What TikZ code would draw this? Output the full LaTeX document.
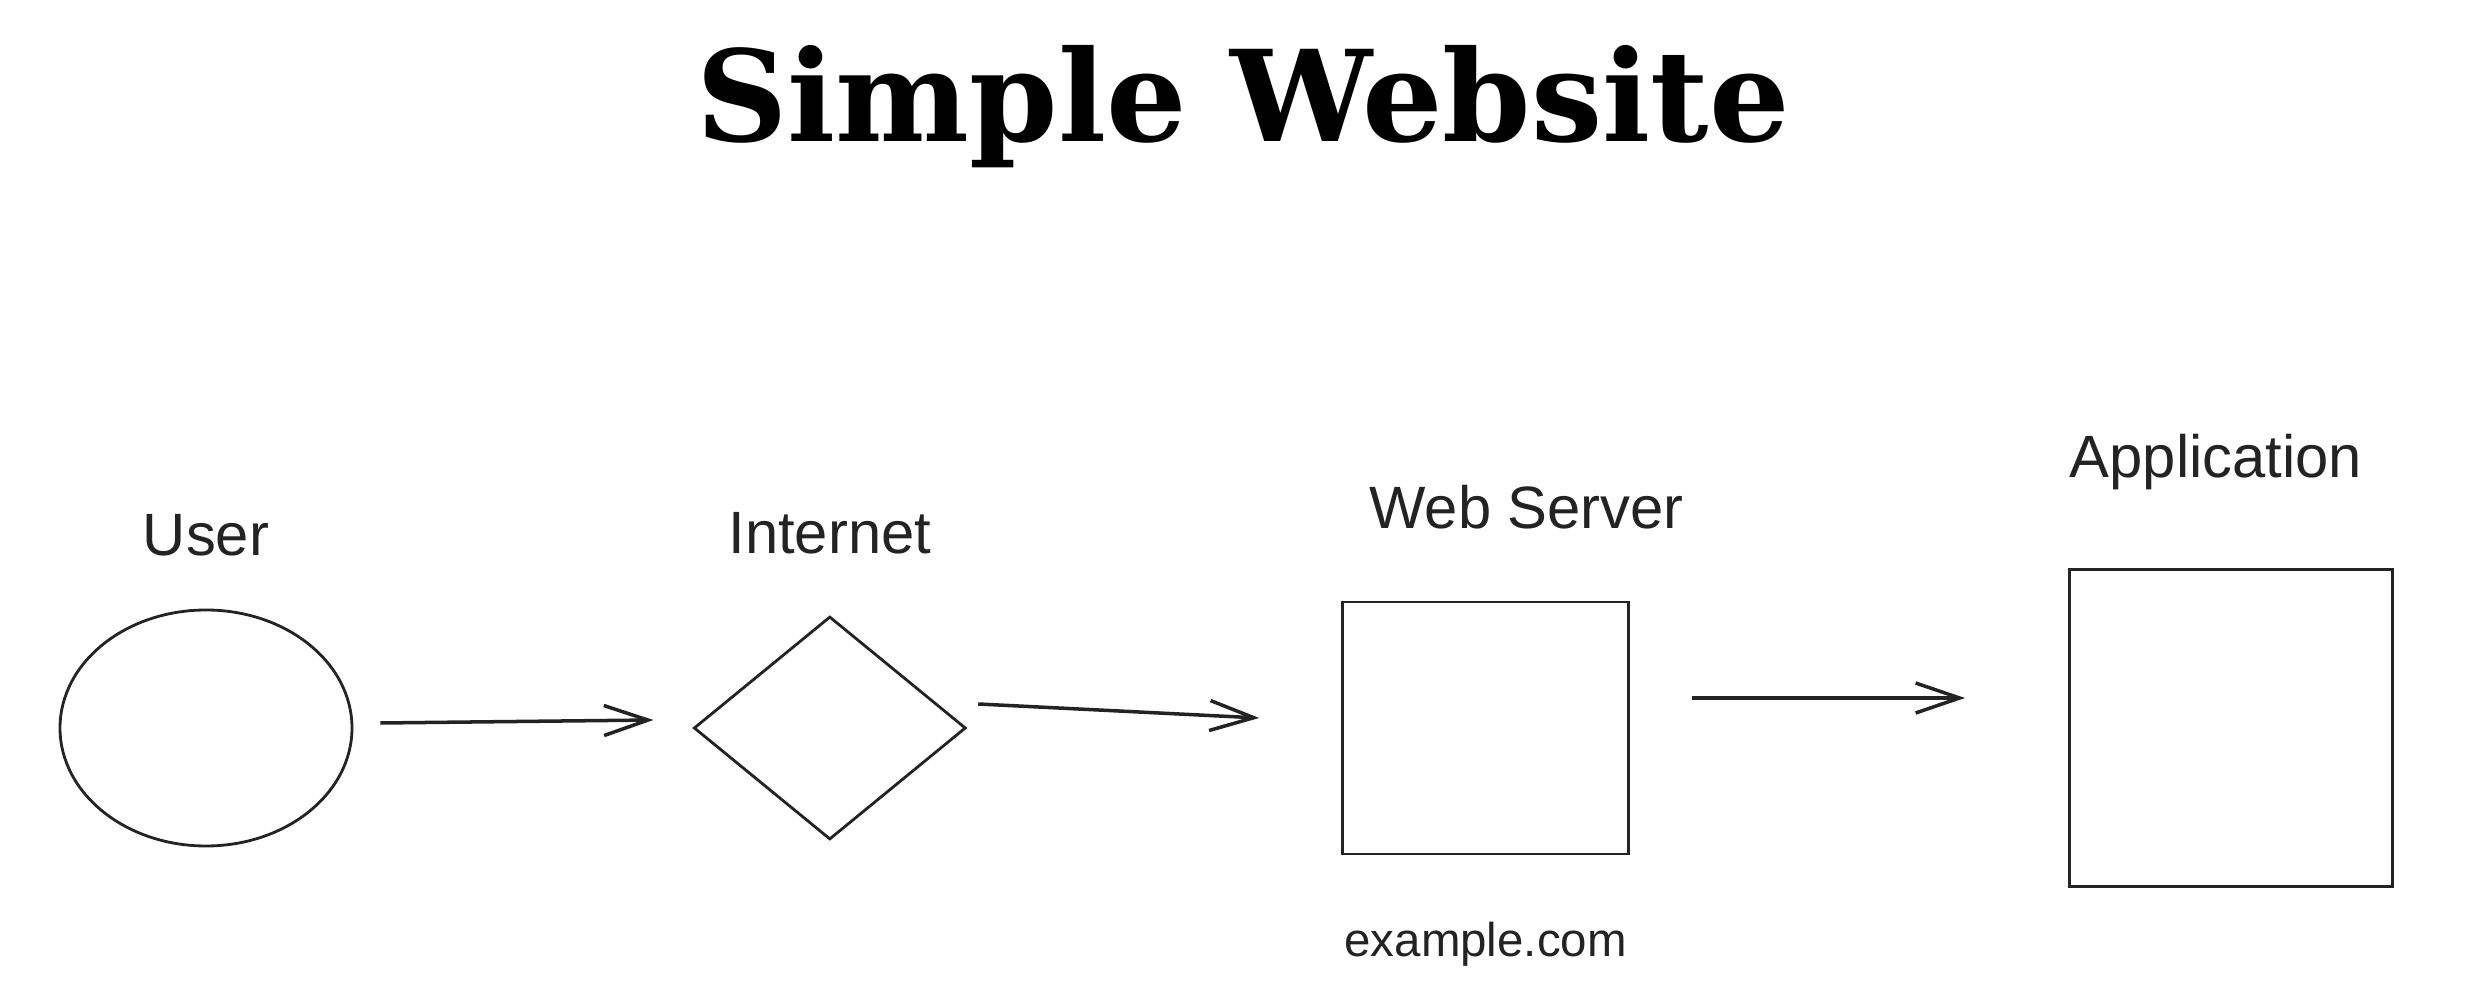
\documentclass[tikz,border=0pt]{standalone}
\usepackage{fontspec}
\setmainfont{Liberation Sans}
\newfontfamily\titlefont{DejaVu Serif}
\usepackage{tikz}
\usetikzlibrary{arrows.meta, positioning, shapes.geometric}
\definecolor{Ink}{RGB}{35, 35, 35}

\begin{document}
\begin{tikzpicture}[
    node distance=5mm,
    shp/.style={draw=Ink, line width=0.8pt, inner sep=0pt},
    circ/.style={shp, ellipse, minimum width=2.92cm, minimum height=2.36cm},
    dia/.style={shp, diamond, minimum width=2.72cm, minimum height=2.23cm},
    box/.style={shp, rectangle},
    lbl/.style={font=\fontsize{17}{19}\selectfont, text=Ink, inner sep=0pt},
    arr/.style={-{Straight Barb[length=4.4mm, width=3mm]}, line width=1pt, Ink}
    ]
    \useasboundingbox (0,0) rectangle (24.76,-9.88);

    \node[font=\titlefont\bfseries\fontsize{36}{40}\selectfont, anchor=base]
          (title) at (12.43,-1.42) {Simple Website};

    \node[circ] (user) at (2.06,-7.28) {};
    \node[dia, right=3.39cm of user] (inet) {};
    \node[box, minimum width=2.86cm, minimum height=2.52cm,
          right=3.74cm of inet] (web) {};
    \node[box, minimum width=3.23cm, minimum height=3.17cm,
          right=4.38cm of web] (app) {};

    \node[lbl, above=0.52cm of user] (userlbl) {User};
    \node[lbl, above=0.60cm of inet] (inetlbl) {Internet};
    \node[lbl, above=0.71cm of web, xshift=0.41cm] (weblbl) {Web Server};
    \node[lbl, above=0.77cm of app, xshift=-0.15cm] (applbl) {Application};
    \node[lbl, below=0.66cm of web, font=\fontsize{13.5}{16}\selectfont] (url) {example.com};

    \draw[arr] ([xshift=0.27cm, yshift=0.05cm]user.east) -- ([xshift=-0.39cm, yshift=0.08cm]inet.west);
    \draw[arr] ([xshift=0.11cm, yshift=0.24cm]inet.east) -- ([xshift=-0.82cm, yshift=0.10cm]web.west);
    \draw[arr] ([xshift=0.62cm, yshift=0.30cm]web.east) -- ([xshift=-1.03cm, yshift=0.30cm]app.west);
  \end{tikzpicture}
\end{document}
